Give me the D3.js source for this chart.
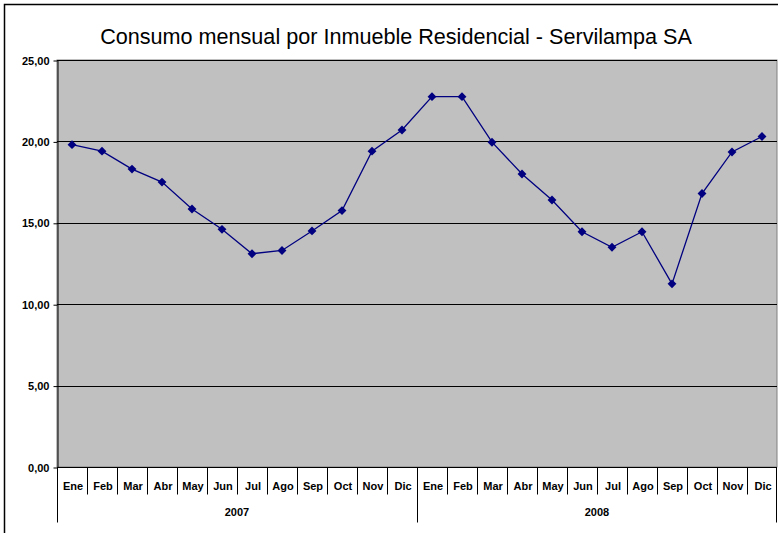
<!DOCTYPE html>
<html>
<head>
<meta charset="utf-8">
<script src="https://cdn.jsdelivr.net/npm/d3@7"></script>
<style>
  body { margin: 0; background: #fff; }
  svg { display: block; font-family: "Liberation Sans", Arial, sans-serif; }
</style>
</head>
<body>
<script>
// data
const years = ['2007', '2008'];
const months = ['Ene', 'Feb', 'Mar', 'Abr', 'May', 'Jun', 'Jul', 'Ago', 'Sep', 'Oct', 'Nov', 'Dic'];
const values2007 = [19.8, 19.4, 18.3, 17.5, 15.85, 14.6, 13.1, 13.3, 14.5, 15.75, 19.4, 20.7];
const values2008 = [22.75, 22.75, 19.95, 18.0, 16.4, 14.45, 13.5, 14.45, 11.25, 16.8, 19.35, 20.3];
const yTicks = [0, 5, 10, 15, 20, 25];

const draw = () => {
    const width = 778, height = 533;
    const margin = {top: 60, left: 57, right: 1, bottom: 66};

    const svg = d3.select('body')
        .append('svg')
        .attr('width', width)
        .attr('height', height);

    // outer chart frame (runs off the right and bottom edges)
    svg.append('rect')
        .attr('x', 4.5).attr('y', 4.5)
        .attr('width', 800).attr('height', 560)
        .attr('fill', '#fff')
        .attr('stroke', '#000')
        .attr('stroke-width', 1.5);

    // flatten into one series of points
    const points = [];
    years.forEach((yr, yi) => {
        const vals = yi === 0 ? values2007 : values2008;
        months.forEach((m, mi) => points.push({key: yr + '-' + m, month: m, year: yr, value: vals[mi]}));
    });

    const x = d3.scaleBand()
        .domain(points.map(d => d.key))
        .range([margin.left, width - margin.right]);

    const y = d3.scaleLinear()
        .domain([0, 25])
        .range([height - margin.bottom, margin.top]);

    // plot area
    svg.append('rect')
        .attr('x', margin.left).attr('y', margin.top)
        .attr('width', x.range()[1] - margin.left)
        .attr('height', y(0) - margin.top)
        .attr('fill', '#c0c0c0')
        .attr('stroke', '#808080');

    // gridlines
    svg.append('g')
        .selectAll('line')
        .data(yTicks.filter(d => d > 0))
        .enter().append('line')
        .attr('x1', margin.left).attr('x2', x.range()[1])
        .attr('y1', d => Math.round(y(d)) + 0.5)
        .attr('y2', d => Math.round(y(d)) + 0.5)
        .attr('stroke', '#000');

    // y axis
    const yAxis = svg.append('g')
        .attr('transform', `translate(${margin.left + 0.5},0.5)`)
        .call(d3.axisLeft(y).tickValues(yTicks).tickSize(4).tickSizeOuter(0)
            .tickFormat(d => d3.format('.2f')(d).replace('.', ',')));
    yAxis.select('.domain').attr('stroke', '#000');
    yAxis.selectAll('text')
        .attr('x', -8)
        .attr('font-size', 11)
        .attr('font-weight', 'bold')
        .attr('fill', '#000')
        .attr('font-family', '"Liberation Sans", Arial, sans-serif');

    // x axis line
    const x0 = Math.round(y(0)) + 0.5;
    svg.append('line')
        .attr('x1', margin.left).attr('x2', x.range()[1])
        .attr('y1', x0).attr('y2', x0)
        .attr('stroke', '#000');

    // month separators and labels
    const bw = x.bandwidth();
    svg.append('g')
        .selectAll('line')
        .data(points)
        .enter().append('line')
        .attr('x1', d => Math.round(x(d.key)) + 0.5)
        .attr('x2', d => Math.round(x(d.key)) + 0.5)
        .attr('y1', x0).attr('y2', d => d.month === 'Ene' ? x0 + 55 : x0 + 27)
        .attr('stroke', '#000');
    svg.append('line')
        .attr('x1', Math.round(x.range()[1]) - 0.5).attr('x2', Math.round(x.range()[1]) - 0.5)
        .attr('y1', x0).attr('y2', x0 + 55)
        .attr('stroke', '#000');

    svg.append('g')
        .selectAll('text')
        .data(points)
        .enter().append('text')
        .attr('x', d => x(d.key) + bw / 2 + 1)
        .attr('y', x0 + 22)
        .attr('text-anchor', 'middle')
        .attr('font-size', 11)
        .attr('font-weight', 'bold')
        .text(d => d.month);

    // year labels
    svg.append('g')
        .selectAll('text')
        .data(years)
        .enter().append('text')
        .attr('x', d => x(d + '-Ene') + bw * 6)
        .attr('y', x0 + 48)
        .attr('text-anchor', 'middle')
        .attr('font-size', 11)
        .attr('font-weight', 'bold')
        .text(d => d);

    // line
    const line = d3.line()
        .x(d => x(d.key) + bw / 2)
        .y(d => y(d.value));

    svg.append('path')
        .attr('d', line(points))
        .attr('fill', 'none')
        .attr('stroke', '#000080')
        .attr('stroke-width', 1.3);

    // diamond markers
    const diamond = d3.symbol().type(d3.symbolDiamond2).size(50);
    svg.append('g')
        .selectAll('path')
        .data(points)
        .enter().append('path')
        .attr('transform', d => `translate(${x(d.key) + bw / 2},${y(d.value)})`)
        .attr('d', diamond)
        .attr('fill', '#000080');

    // title
    svg.append('text')
        .attr('x', 396)
        .attr('y', 44)
        .attr('text-anchor', 'middle')
        .attr('font-size', 21.6)
        .text('Consumo mensual por Inmueble Residencial - Servilampa SA');
}

draw();
</script>
</body>
</html>
